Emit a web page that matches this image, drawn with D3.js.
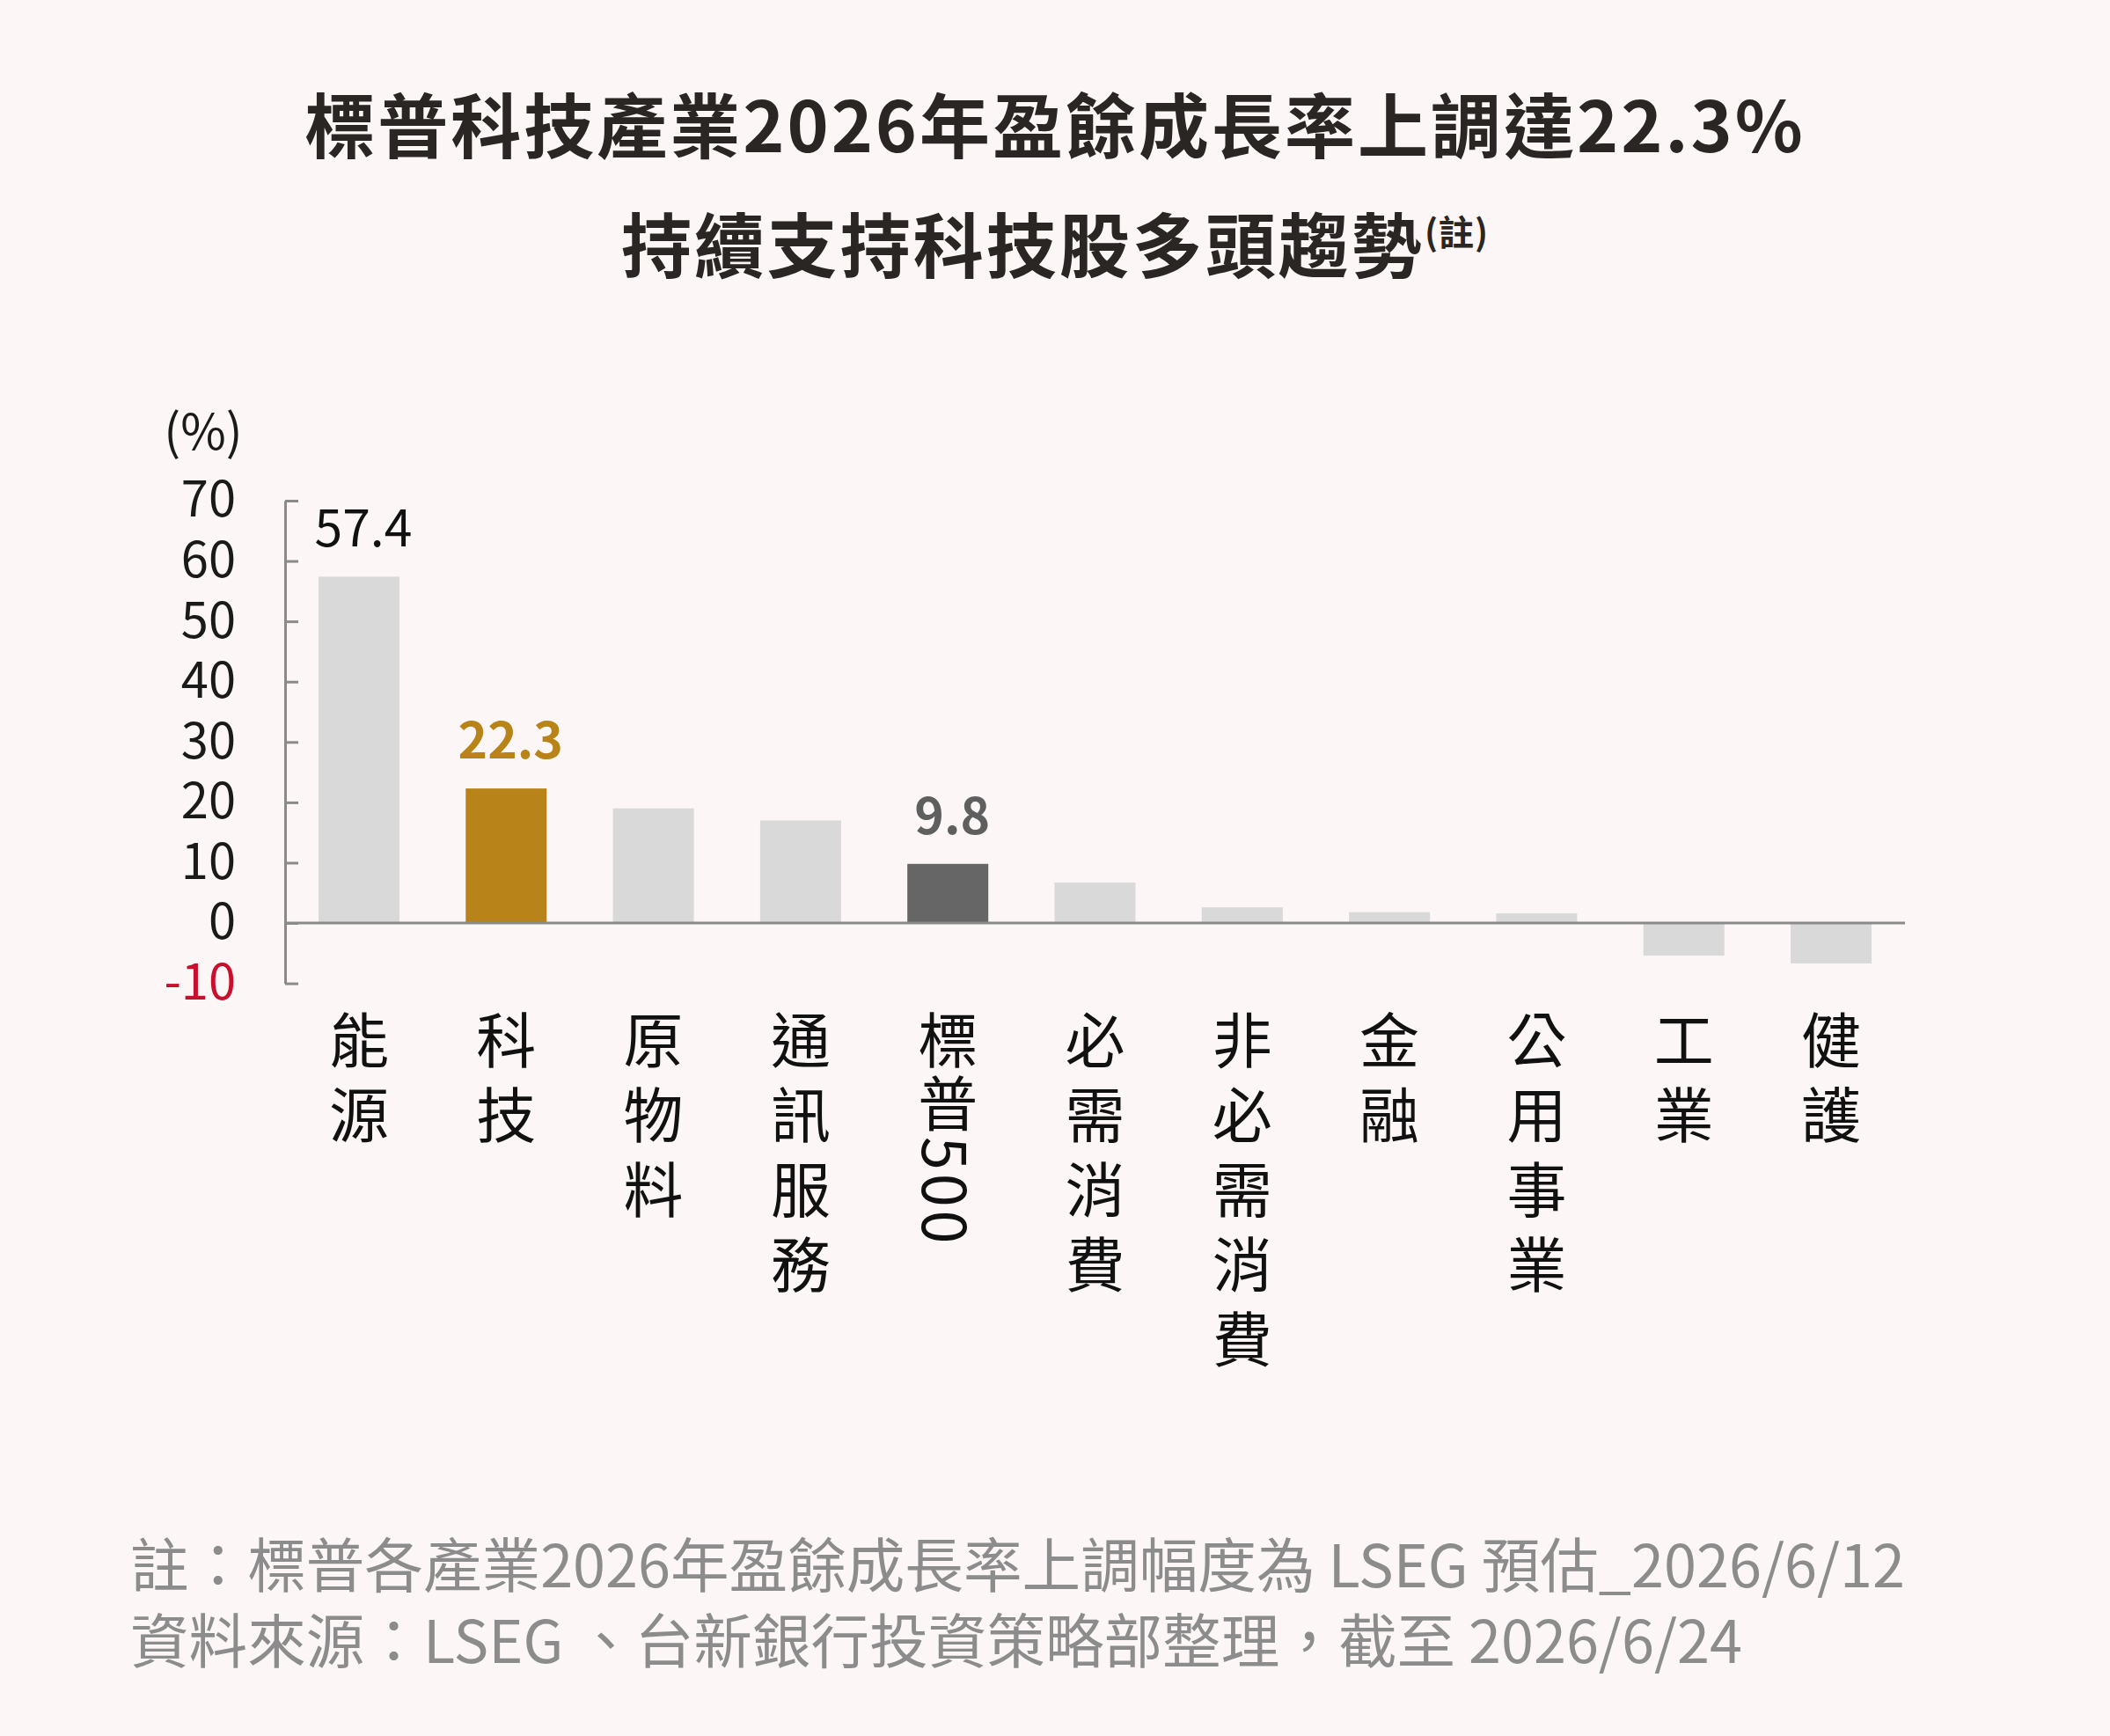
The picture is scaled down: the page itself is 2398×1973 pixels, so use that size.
<!DOCTYPE html>
<html lang="zh-Hant">
  <head>
    <meta charset="utf-8" />
    <title>標普科技產業2026年盈餘成長率</title>
    <script src="https://cdn.jsdelivr.net/npm/d3@7"></script>
    <style>
      html, body { margin: 0; padding: 0; background: #fcf7f6; }
      text { font-family: "Noto Sans CJK TC", "Noto Sans", sans-serif; }
    </style>
  </head>
  <body>
    <script>
      var w = 2398;
      var h = 1973;

      // data
      var categories = ["能源", "科技", "原物料", "通訊服務", "標普500", "必需消費", "非必需消費", "金融", "公用事業", "工業", "健護"];
      var values = [57.4, 22.3, 19.0, 17.0, 9.8, 6.7, 2.6, 1.8, 1.6, -5.4, -6.7];
      var labelled = { "能源": "57.4", "科技": "22.3", "標普500": "9.8" };
      var yTicks = [-10, 0, 10, 20, 30, 40, 50, 60, 70];

      var barColor = function (c) {
        if (c === "科技") return "#b8841a";
        if (c === "標普500") return "#666666";
        return "#d9d9d9";
      };
      var labelColor = function (c) {
        if (c === "科技") return "#b8841a";
        if (c === "標普500") return "#5f5f5f";
        return "#111";
      };

      var svg = d3.select("body").append("svg")
        .attr("width", w)
        .attr("height", h);

      svg.append("rect").attr("width", w).attr("height", h).attr("fill", "#fcf7f6");

      // title
      svg.append("text")
        .attr("x", w / 2).attr("y", 138)
        .attr("text-anchor", "middle")
        .attr("dominant-baseline", "central")
        .attr("font-size", 80).attr("font-weight", 700)
        .attr("letter-spacing", 3)
        .attr("fill", "#2a2624")
        .text("標普科技產業2026年盈餘成長率上調達22.3%");

      var t2 = svg.append("text")
        .attr("x", w / 2).attr("y", 274)
        .attr("text-anchor", "middle")
        .attr("dominant-baseline", "central")
        .attr("font-size", 80).attr("font-weight", 700)
        .attr("letter-spacing", 3)
        .attr("fill", "#2a2624");
      t2.append("tspan").text("持續支持科技股多頭趨勢");
      t2.append("tspan").attr("font-size", 40).attr("letter-spacing", 1).attr("dy", -12).text("(註)");

      var xScale = d3.scaleBand()
        .domain(categories)
        .range([324, 2165])
        .paddingInner(0.45)
        .paddingOuter(0.227);

      var yScale = d3.scaleLinear()
        .domain([-10, 70])
        .range([1117.6, 569]);

      // y axis, ticks pointing inwards
      var yAxis = d3.axisLeft(yScale)
        .tickValues(yTicks)
        .tickFormat(function (d) { return String(d); })
        .tickSizeInner(-15)
        .tickSizeOuter(0)
        .tickPadding(56);

      var gy = svg.append("g")
        .attr("transform", "translate(324,0)")
        .call(yAxis);
      gy.select(".domain").attr("stroke", "#8a8a8a").attr("stroke-width", 3);
      gy.selectAll(".tick line").attr("stroke", "#8a8a8a").attr("stroke-width", 3);
      gy.selectAll(".tick text")
        .attr("font-family", "Noto Sans CJK TC")
        .attr("font-size", 56)
        .attr("fill", function (d) { return d < 0 ? "#c8102e" : "#1a1a1a"; });

      svg.append("text")
        .attr("x", 231).attr("y", 486)
        .attr("text-anchor", "middle")
        .attr("dominant-baseline", "central")
        .attr("font-size", 56).attr("fill", "#1a1a1a")
        .text("(%)");

      // bars
      svg.selectAll("rect.bar")
        .data(categories)
        .enter()
        .append("rect")
        .attr("class", "bar")
        .attr("x", function (d) { return xScale(d); })
        .attr("y", function (d, i) { return yScale(Math.max(0, values[i])); })
        .attr("width", xScale.bandwidth())
        .attr("height", function (d, i) { return Math.abs(yScale(values[i]) - yScale(0)); })
        .attr("fill", barColor);

      // zero line
      svg.append("line")
        .attr("x1", 324).attr("x2", 2165)
        .attr("y1", yScale(0)).attr("y2", yScale(0))
        .attr("stroke", "#8a8a8a").attr("stroke-width", 3);

      // value labels
      svg.selectAll("text.val")
        .data(categories.filter(function (c) { return labelled[c]; }))
        .enter()
        .append("text")
        .attr("class", "val")
        .attr("x", function (d) { return xScale(d) + xScale.bandwidth() / 2 + 5; })
        .attr("y", function (d) { return yScale(values[categories.indexOf(d)]) - 34; })
        .attr("text-anchor", "middle")
        .attr("font-size", 57)
        .attr("font-weight", function (d) { return d === "能源" ? 400 : 700; })
        .attr("fill", labelColor)
        .text(function (d) { return labelled[d]; });

      // vertical category labels
      svg.selectAll("text.cat")
        .data(categories)
        .enter()
        .append("text")
        .attr("class", "cat")
        .attr("x", function (d) { return xScale(d) + xScale.bandwidth() / 2; })
        .attr("y", 1148)
        .attr("writing-mode", "vertical-rl")
        .attr("font-size", 68)
        .attr("letter-spacing", function (d) { return /\d/.test(d) ? 4 : 17; })
        .attr("fill", "#111")
        .text(function (d) { return d; });

      // footnote
      var notes = [
        "註：標普各產業2026年盈餘成長率上調幅度為 LSEG 預估_2026/6/12",
        "資料來源：LSEG 、台新銀行投資策略部整理，截至 2026/6/24"
      ];
      svg.selectAll("text.note")
        .data(notes)
        .enter()
        .append("text")
        .attr("class", "note")
        .attr("x", 148)
        .attr("y", function (d, i) { return 1775 + i * 86; })
        .attr("dominant-baseline", "central")
        .attr("font-size", 66.6)
        .attr("fill", "#8c8c8c")
        .text(function (d) { return d; });
    </script>
  </body>
</html>
